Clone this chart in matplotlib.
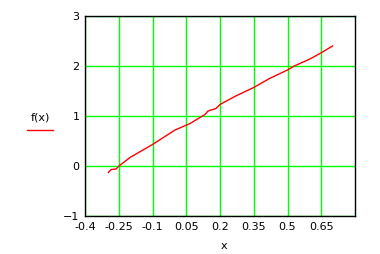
import numpy as np
from matplotlib import pyplot as plt

# data
x = [-0.296, -0.284, -0.262, -0.249, -0.2, -0.1, 0.0, 0.067, 0.133, 0.147,
     0.182, 0.2, 0.27, 0.35, 0.42, 0.5, 0.53, 0.6, 0.652, 0.7]
y = [-0.13, -0.07, -0.06, 0.0, 0.17, 0.43, 0.72, 0.85, 1.03, 1.1,
     1.15, 1.23, 1.4, 1.57, 1.75, 1.92, 2.0, 2.14, 2.27, 2.4]

xticks = [-0.4, -0.25, -0.1, 0.05, 0.2, 0.35, 0.5, 0.65]
xlabels = ['-0.4', '-0.25', '-0.1', '0.05', '0.2', '0.35', '0.5', '0.65']
yticks = [-1, 0, 1, 2, 3]

fig = plt.figure(figsize=(3.8, 2.54), dpi=100)
ax = fig.add_axes([85/380, 1-216/254, 270/380, 200/254])

ax.plot(x, y, color='#ff0000', linewidth=1)

ax.set_xlim(-0.4, 0.8)
ax.set_ylim(-1, 3)
ax.set_xticks(xticks)
ax.set_xticklabels(xlabels)
ax.set_yticks(yticks)
ax.grid(True, color='#00ff00', linewidth=1)
ax.tick_params(length=0, labelsize=8, pad=4)
for s in ax.spines.values():
    s.set_linewidth(1)
    s.set_color('black')

fig.text(40/380, 1-117/254, 'f(x)', fontsize=8, ha='center', va='center')
fig.lines.append(plt.Line2D([27/380, 53/380], [1-130/254, 1-130/254],
                            color='#ff0000', linewidth=1, transform=fig.transFigure))
fig.text(224/380, 1-246/254, 'x', fontsize=8, ha='center', va='center')

plt.savefig('out.png', dpi=100)
